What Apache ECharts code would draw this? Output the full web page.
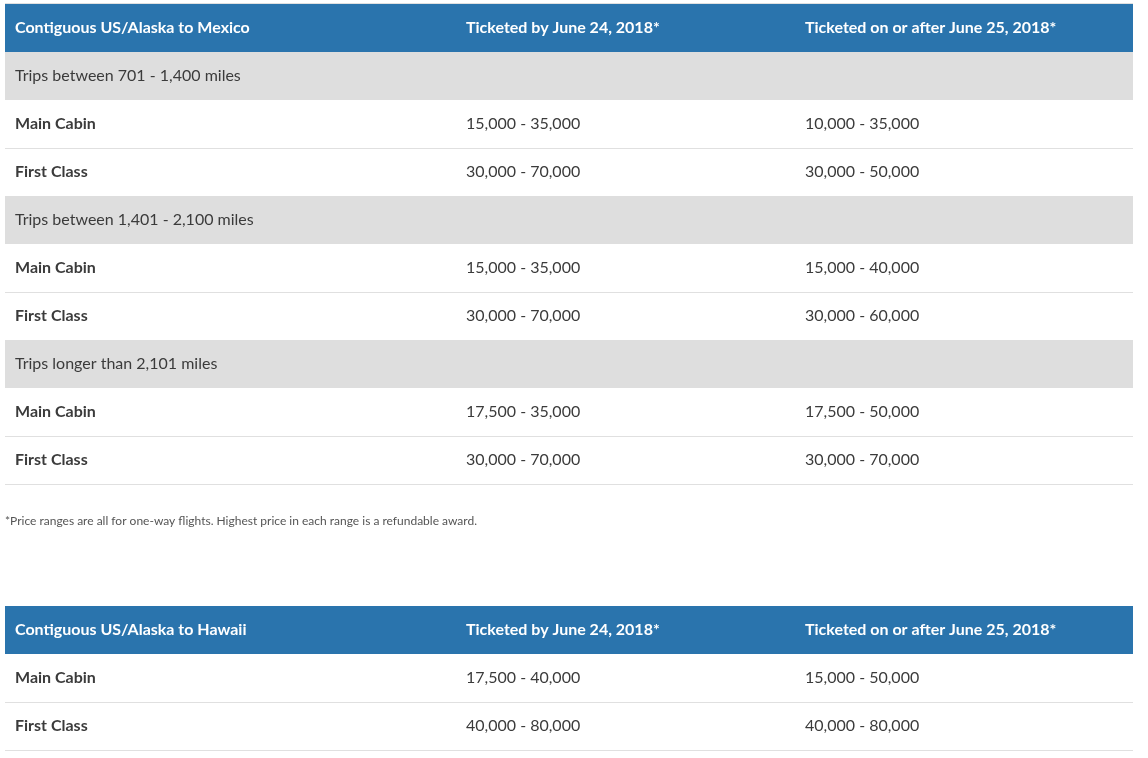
<!DOCTYPE html>
<html><head><meta charset="utf-8">
<script src="https://cdn.jsdelivr.net/npm/echarts@6/dist/echarts.min.js"></script>
<style>html,body{margin:0;padding:0;background:#fff}#c{width:1148px;height:758px}</style>
</head><body><div id="c"></div>
<script>
// table 1: Mexico
const mexicoHeader = ['Contiguous US/Alaska to Mexico', 'Ticketed by June 24, 2018*', 'Ticketed on or after June 25, 2018*'];
const mexicoGroups = ['Trips between 701 - 1,400 miles', 'Trips between 1,401 - 2,100 miles', 'Trips longer than 2,101 miles'];
const cabins = ['Main Cabin', 'First Class'];
const mexicoByJune24 = [['15,000 - 35,000', '30,000 - 70,000'], ['15,000 - 35,000', '30,000 - 70,000'], ['17,500 - 35,000', '30,000 - 70,000']];
const mexicoAfterJune25 = [['10,000 - 35,000', '30,000 - 50,000'], ['15,000 - 40,000', '30,000 - 60,000'], ['17,500 - 50,000', '30,000 - 70,000']];
const footnote = '*Price ranges are all for one-way flights. Highest price in each range is a refundable award.';
// table 2: Hawaii
const hawaiiHeader = ['Contiguous US/Alaska to Hawaii', 'Ticketed by June 24, 2018*', 'Ticketed on or after June 25, 2018*'];
const hawaiiByJune24 = ['17,500 - 40,000', '40,000 - 80,000'];
const hawaiiAfterJune25 = ['15,000 - 50,000', '40,000 - 80,000'];

const X0 = 5, W = 1128, RH = 48, COLX = [15, 466, 805];
const FONT = 'Lato, "Noto Sans", sans-serif';
const BLUE = '#2a74ad', GREY = '#dedede', TXT = '#3b3b3b', LINE = '#e0e0e0';
const els = [];

const rect = function (y, h, fill) {
  els.push({ type: 'rect', shape: { x: X0, y: y, width: W, height: h }, style: { fill: fill } });
};
const hline = function (y) {
  els.push({ type: 'line', shape: { x1: X0, y1: y + 0.5, x2: X0 + W, y2: y + 0.5 }, style: { stroke: LINE, lineWidth: 1 } });
};
const text = function (x, y, s, opts) {
  els.push({ type: 'text', x: x, y: y, style: Object.assign({ text: s, fill: TXT, font: '16px ' + FONT, verticalAlign: 'middle' }, opts || {}) });
};
const header = function (y, cells) {
  rect(y, RH, BLUE);
  cells.forEach(function (c, i) {
    text(COLX[i], y + RH / 2, c, { fill: '#fff', font: 'bold 16px ' + FONT });
  });
};
const cabinRows = function (y, left, right) {
  cabins.forEach(function (cab, i) {
    const ry = y + i * RH;
    text(COLX[0], ry + RH / 2, cab, { font: 'bold 16px ' + FONT });
    text(COLX[1], ry + RH / 2, left[i]);
    text(COLX[2], ry + RH / 2, right[i]);
    hline(ry + RH);
  });
};

hline(3);
header(4, mexicoHeader);
let y = 4 + RH;
mexicoGroups.forEach(function (g, gi) {
  rect(y, RH, GREY);
  text(COLX[0], y + RH / 2, g);
  y += RH;
  cabinRows(y, mexicoByJune24[gi], mexicoAfterJune25[gi]);
  y += RH * 2;
});
text(5, 521, footnote, { font: '12px ' + FONT, fill: '#555' });
header(606, hawaiiHeader);
cabinRows(606 + RH, hawaiiByJune24, hawaiiAfterJune25);

const chart = echarts.init(document.getElementById('c'), null, { renderer: 'canvas' });
chart.setOption({ animation: false, graphic: { elements: els } });
</script></body></html>
